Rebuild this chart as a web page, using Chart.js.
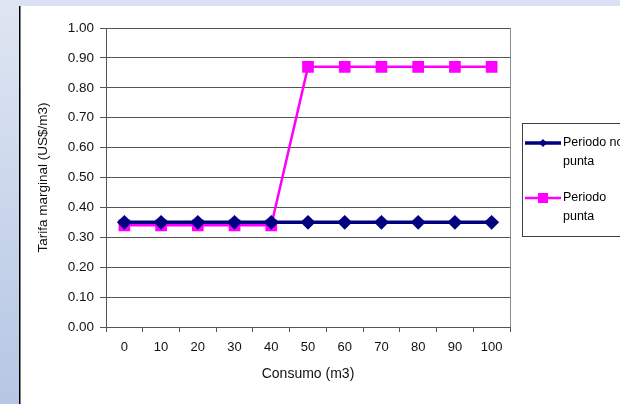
<!DOCTYPE html>
<html>
<head>
<meta charset="utf-8">
<script src="https://cdn.jsdelivr.net/npm/chart.js@4"></script>
<style>
  html, body { margin: 0; padding: 0; background: #fff; }
  #chart { position: absolute; left: 0; top: 0; }
</style>
</head>
<body>
<canvas id="chart" width="620" height="404"></canvas>
<script>
// Tarifa marginal vs consumo
const categories = ['0', '10', '20', '30', '40', '50', '60', '70', '80', '90', '100'];
const noPunta = [0.35, 0.35, 0.35, 0.35, 0.35, 0.35, 0.35, 0.35, 0.35, 0.35, 0.35];
const punta = [0.34, 0.34, 0.34, 0.34, 0.34, 0.87, 0.87, 0.87, 0.87, 0.87, 0.87];
const legendLines = [['Periodo no', 'punta'], ['Periodo', 'punta']];

const FONT = "'Liberation Sans', Arial, sans-serif";

// slide frame + white page behind the chart
const framePlugin = {
  id: 'frame',
  beforeDraw(chart) {
    const ctx = chart.ctx;
    ctx.save();
    ctx.fillStyle = '#ffffff';
    ctx.fillRect(0, 0, 620, 404);
    ctx.fillStyle = '#d9e1f2';
    ctx.fillRect(0, 0, 620, 6);
    const g = ctx.createLinearGradient(0, 0, 0, 404);
    g.addColorStop(0, '#dfe6f2');
    g.addColorStop(1, '#b5c7e4');
    ctx.fillStyle = g;
    ctx.fillRect(0, 0, 19, 404);
    ctx.fillStyle = '#000';
    ctx.fillRect(19, 6, 1.5, 398);
    ctx.restore();
  },
  afterDraw(chart) {
    const ctx = chart.ctx;
    const a = chart.chartArea;
    ctx.save();
    // right border of plot area
    ctx.strokeStyle = '#8c8c8c';
    ctx.lineWidth = 1;
    ctx.beginPath();
    ctx.moveTo(Math.round(a.right) + 0.5, a.top);
    ctx.lineTo(Math.round(a.right) + 0.5, a.bottom);
    ctx.stroke();

    // legend box (clipped by the right edge)
    ctx.strokeStyle = '#404040';
    ctx.strokeRect(522.5, 123.5, 120, 113);
    ctx.font = '12.5px ' + FONT;
    ctx.textBaseline = 'middle';
    const rows = [143, 198];
    chart.data.datasets.forEach((ds, i) => {
      const y = rows[i];
      ctx.strokeStyle = ds.borderColor;
      ctx.lineWidth = ds.borderWidth;
      ctx.beginPath();
      ctx.moveTo(525, y);
      ctx.lineTo(561, y);
      ctx.stroke();
      ctx.fillStyle = ds.pointBackgroundColor;
      ctx.beginPath();
      if (ds.pointStyle === 'rectRot') {
        ctx.moveTo(543 - 4, y);
        ctx.lineTo(543, y - 4);
        ctx.lineTo(543 + 4, y);
        ctx.lineTo(543, y + 4);
        ctx.closePath();
      } else {
        ctx.rect(543 - 5, y - 5, 10, 10);
      }
      ctx.fill();
      ctx.fillStyle = '#000';
      ctx.fillText(legendLines[i][0], 563, y);
      ctx.fillText(legendLines[i][1], 563, y + 18.5);
    });
    ctx.restore();
  }
};

new Chart(document.getElementById('chart'), {
  type: 'line',
  data: {
    labels: categories,
    datasets: [
      {
        label: 'Periodo no punta',
        data: noPunta,
        borderColor: '#000080',
        backgroundColor: '#000080',
        pointBackgroundColor: '#000080',
        pointBorderColor: '#000080',
        borderWidth: 3.5,
        pointStyle: 'rectRot',
        pointRadius: 5,
        tension: 0
      },
      {
        label: 'Periodo punta',
        data: punta,
        borderColor: '#ff00ff',
        backgroundColor: '#ff00ff',
        pointBackgroundColor: '#ff00ff',
        pointBorderColor: '#ff00ff',
        borderWidth: 2.5,
        pointStyle: 'rect',
        pointRadius: 6.5,
        tension: 0
      }
    ]
  },
  options: {
    responsive: false,
    animation: false,
    layout: { padding: { top: 28, right: 110, left: 0, bottom: 0 } },
    plugins: {
      legend: { display: false },
      tooltip: { enabled: false }
    },
    scales: {
      x: {
        offset: true,
        afterFit: s => { s.height = 77; },
        grid: {
          offset: true,
          drawOnChartArea: false,
          drawTicks: true,
          tickLength: 5,
          color: '#555'
        },
        border: { color: '#555', width: 1 },
        ticks: {
          color: '#111',
          padding: 8,
          maxRotation: 0,
          font: { family: FONT, size: 13 }
        },
        title: {
          display: true,
          text: 'Consumo (m3)',
          color: '#111',
          padding: { top: 0, bottom: 21 },
          font: { family: FONT, size: 14 }
        }
      },
      y: {
        min: 0,
        max: 1,
        afterFit: s => { s.width = 106; },
        grid: {
          color: '#555',
          tickLength: 6,
          lineWidth: 1
        },
        border: { color: '#555', width: 1 },
        ticks: {
          stepSize: 0.1,
          color: '#111',
          padding: 6,
          font: { family: FONT, size: 13.5 },
          callback: v => Number(v).toFixed(2)
        },
        title: {
          display: true,
          text: 'Tarifa marginal (US$/m3)',
          color: '#111',
          padding: { top: 35, bottom: 0 },
          font: { family: FONT, size: 13.5 }
        }
      }
    }
  },
  plugins: [framePlugin]
});
</script>
</body>
</html>
